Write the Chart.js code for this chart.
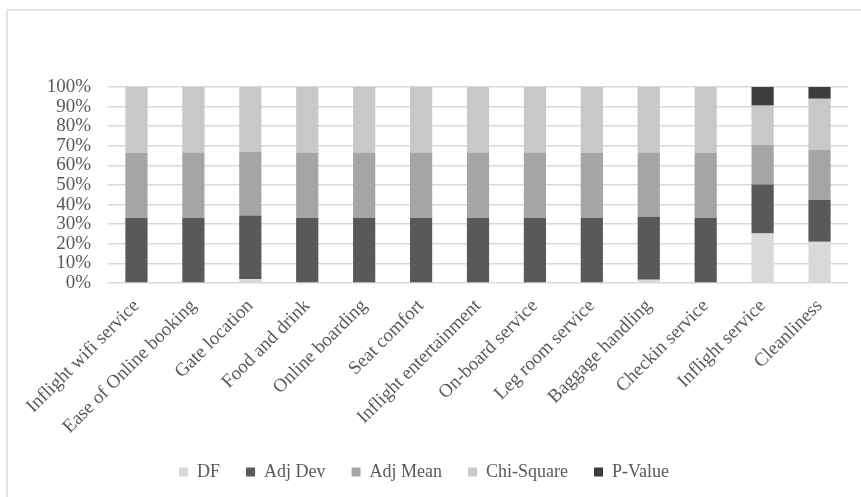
<!DOCTYPE html>
<html>
<head>
<meta charset="utf-8">
<script src="https://cdn.jsdelivr.net/npm/chart.js@4"></script>
<style>
  html, body { margin: 0; padding: 0; background: #fff; }
  #wrap { width: 861px; height: 497px; }
</style>
</head>
<body>
<div id="wrap"><canvas id="chart" width="861" height="497"></canvas></div>
<script>
const categories = [
  "Inflight wifi service", "Ease of Online booking", "Gate location", "Food and drink",
  "Online boarding", "Seat comfort", "Inflight entertainment", "On-board service",
  "Leg room service", "Baggage handling", "Checkin service", "Inflight service", "Cleanliness"
];

// shares in %
const dfValues        = [0, 0, 2.0, 0, 0, 0, 0, 0, 0, 1.7, 0, 25.2, 21.0];
const adjDevValues    = [33.2, 33.3, 32.5, 33.3, 33.3, 33.3, 33.3, 33.3, 33.2, 32.1, 33.1, 25.0, 21.5];
const adjMeanValues   = [33.1, 33.3, 32.6, 33.3, 33.3, 33.3, 33.3, 33.3, 33.1, 32.8, 33.2, 20.4, 25.5];
const chiSquareValues = [33.7, 33.4, 32.9, 33.4, 33.4, 33.4, 33.4, 33.4, 33.7, 33.4, 33.7, 19.9, 26.0];
const pValueValues    = [0, 0, 0, 0, 0, 0, 0, 0, 0, 0, 0, 9.5, 6.0];

const yTicks = [0, 10, 20, 30, 40, 50, 60, 70, 80, 90, 100];

const TEXT = "#595959";
const FONT = "'Liberation Serif', 'Times New Roman', serif";

// светло-серая рамка как у картинки из Excel
const framePlugin = {
  id: "frame",
  beforeDraw(chart) {
    const g = chart.ctx;
    g.save();
    g.strokeStyle = "#e4e4e4";
    g.lineWidth = 2;
    g.beginPath();
    g.moveTo(7, chart.height);
    g.lineTo(7, 10);
    g.lineTo(chart.width, 10);
    g.stroke();
    g.restore();
  },
};

const series = [
  { label: "DF", data: dfValues, color: "#d9d9d9" },
  { label: "Adj Dev", data: adjDevValues, color: "#595959" },
  { label: "Adj Mean", data: adjMeanValues, color: "#a5a5a5" },
  { label: "Chi-Square", data: chiSquareValues, color: "#c8c8c8" },
  { label: "P-Value", data: pValueValues, color: "#3d3d3d" },
];

new Chart(document.getElementById("chart"), {
  type: "bar",
  data: {
    labels: categories,
    datasets: series.map((s) => ({
      label: s.label,
      data: s.data,
      backgroundColor: s.color,
      borderWidth: 0,
      barPercentage: 0.39,
      categoryPercentage: 1,
    })),
  },
  options: {
    responsive: false,
    animation: false,
    layout: { padding: { left: 0, right: 13, top: 87, bottom: 6 } },
    scales: {
      x: {
        stacked: true,
        grid: { display: false },
        border: { display: false },
        ticks: {
          color: TEXT,
          font: { family: FONT, size: 19 },
          minRotation: 45,
          maxRotation: 45,
          autoSkip: false,
          padding: 4,
        },
        afterFit: (s) => { s.height = 154; },
      },
      y: {
        stacked: true,
        min: 0,
        max: 100,
        afterBuildTicks: (s) => { s.ticks = yTicks.map((v) => ({ value: v })); },
        grid: { color: "#d9d9d9", lineWidth: 1.5, drawTicks: false },
        border: { display: false },
        ticks: {
          color: TEXT,
          font: { family: FONT, size: 19 },
          padding: 17,
          autoSkip: false,
          callback: (v) => v + "%",
        },
        afterFit: (s) => { s.width = 108; },
      },
    },
    plugins: {
      legend: {
        position: "bottom",
        labels: {
          color: TEXT,
          font: { family: FONT, size: 18 },
          boxWidth: 9,
          boxHeight: 9,
          padding: 26,
        },
      },
      tooltip: { enabled: false },
    },
  },
  plugins: [framePlugin],
});
</script>
</body>
</html>
